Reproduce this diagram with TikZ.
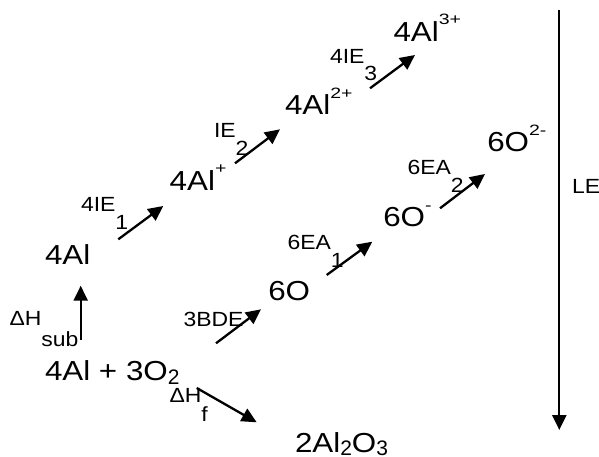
\documentclass[tikz,border=0pt]{standalone}
\usepackage{fontspec}
\setmainfont{Liberation Sans}
\newfontfamily\mainwide[FakeStretch=1.14]{Liberation Sans}
\newfontfamily\labwide[FakeStretch=1.12]{Liberation Sans}
\newfontfamily\supwide[FakeStretch=1.3]{Liberation Sans}
\usetikzlibrary{arrows.meta}
\newcommand{\spp}[1]{\raisebox{16.5pt}{\supwide\fontsize{15}{15}\selectfont #1}}
\newcommand{\sbb}[2][4pt]{\raisebox{-#1}{\rmfamily\fontsize{21}{21}\selectfont #2}}
\newcommand{\lsb}[2][17.7pt]{\raisebox{-#1}{#2}}
\begin{document}
\begin{tikzpicture}[x=1pt,y=-1pt,
  species/.style={anchor=base west, inner sep=0pt, outer sep=0pt, font=\mainwide\fontsize{27.5}{30}\selectfont},
  lab/.style={anchor=base west, inner sep=0pt, outer sep=0pt, font=\labwide\fontsize{20.5}{22}\selectfont},
  arr/.style={line width=2.3pt, -{Triangle[length=15pt,width=14pt]}}]
\useasboundingbox (0,0) rectangle (599,457);
% species
\node[species] (al)    at (45,264.3)    {4Al};
\node[species] (alp)   at (169.7,190)   {4Al\spp{+}};
\node[species] (al2)   at (285,115)     {4Al\spp{2+}};
\node[species] (al3)   at (393.5,41.2)  {4Al\spp{3+}};
\node[species] (react) at (45,380)      {4Al + 3O\sbb{2}};
\node[species] (o)     at (268.3,300)   {6O};
\node[species] (om)    at (383.3,226.7) {6O\spp{-}};
\node[species] (o2m)   at (487.3,151.7) {6O\spp{2-}};
\node[species] (prod)  at (295,452)     {2Al\sbb[3.5pt]{2}O\sbb[3.5pt]{3}};
% labels
\node[lab] (lsub) at (9.5,325)    {ΔH\lsb[21pt]{sub}};
\node[lab] (lie1) at (81,211.7)   {4IE\lsb{1}};
\node[lab] (lie2) at (214,137.7)  {IE\lsb{2}};
\node[lab] (lie3) at (330,63.3)   {4IE\lsb{3}};
\node[lab] (lbde) at (183.5,326.7) {3BDE};
\node[lab] (lea1) at (287.5,249.3) {6EA\lsb{1}};
\node[lab] (lea2) at (407.5,175)  {6EA\lsb{2}};
\node[lab] (lhf)  at (169.5,402)  {ΔH\lsb[19pt]{f}};
\node[lab] (lle)  at (572,193.3)  {LE};
% arrow end points
\coordinate (subS) at (80.7,340);   \coordinate (subE) at (80.7,285.7);
\coordinate (ie1S) at (118.3,239.3); \coordinate (ie1E) at (163.3,206);
\coordinate (ie2S) at (235,163.3);  \coordinate (ie2E) at (280,129.3);
\coordinate (ie3S) at (370,88.3);   \coordinate (ie3E) at (415,55);
\coordinate (bdeS) at (216,343.3);  \coordinate (bdeE) at (261,309.3);
\coordinate (ea1S) at (326.7,275);  \coordinate (ea1E) at (372.3,241.7);
\coordinate (ea2S) at (440,208.3);  \coordinate (ea2E) at (485,174);
\coordinate (hfS)  at (196.7,388);  \coordinate (hfE)  at (256.7,422.3);
\coordinate (leS)  at (559.3,10);   \coordinate (leE)  at (559.3,430);
\draw[arr] (subS) -- (subE);
\draw[arr] (ie1S) -- (ie1E);
\draw[arr] (ie2S) -- (ie2E);
\draw[arr] (ie3S) -- (ie3E);
\draw[arr] (bdeS) -- (bdeE);
\draw[arr] (ea1S) -- (ea1E);
\draw[arr] (ea2S) -- (ea2E);
\draw[arr] (hfS) -- (hfE);
\draw[arr] (leS) -- (leE);
\end{tikzpicture}
\end{document}
